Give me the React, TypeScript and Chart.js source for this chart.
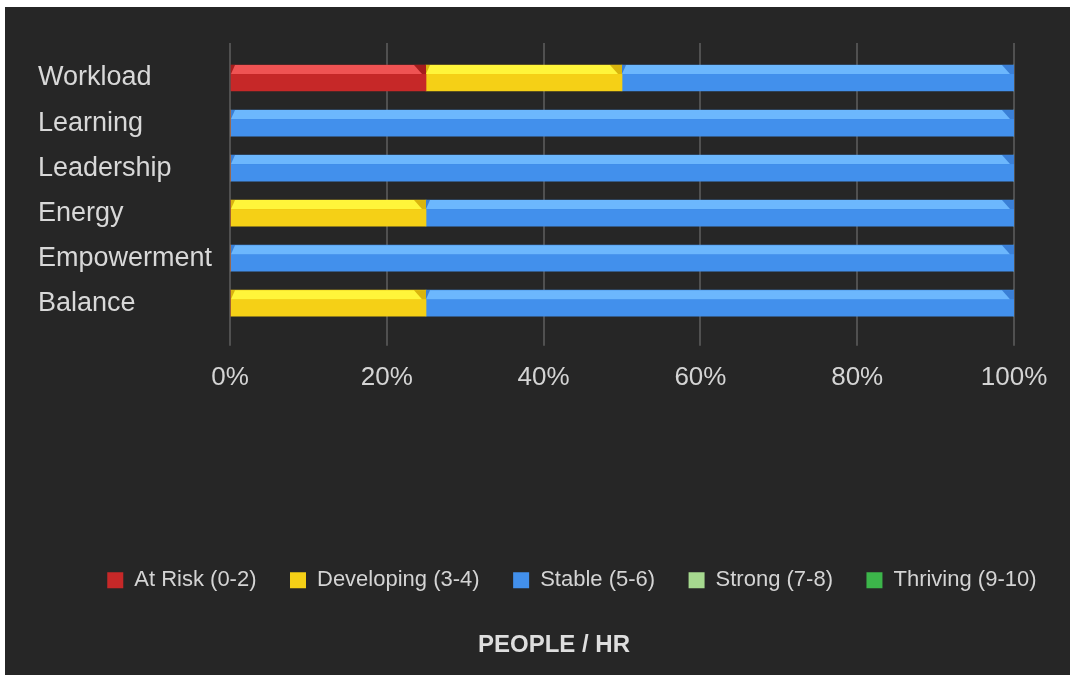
import React, { useEffect, useRef } from 'react';
import { Chart, registerables } from 'chart.js';

Chart.register(...registerables);

// ---- data ----
const categories = ['Workload', 'Learning', 'Leadership', 'Energy', 'Empowerment', 'Balance'];
const seriesNames = ['At Risk (0-2)', 'Developing (3-4)', 'Stable (5-6)', 'Strong (7-8)', 'Thriving (9-10)'];
const atRisk = [25, 0, 0, 0, 0, 0];
const developing = [25, 0, 0, 25, 0, 25];
const stable = [50, 100, 100, 75, 100, 75];
const strong = [0, 0, 0, 0, 0, 0];
const thriving = [0, 0, 0, 0, 0, 0];
const xTickValues = [0, 20, 40, 60, 80, 100];
const titleText = 'PEOPLE / HR';

// ---- styles ----
const fills = ['#c62828', '#f5d016', '#4290ec', '#a6d98f', '#3cb54a'];
const highlights = ['#ef5353', '#fff53a', '#6cb7fd', '#c5e8b5', '#62cc6e'];
const shades = ['#a51d1d', '#d9b50e', '#3a7fd6', '#8cc070', '#2e9a3c'];
const FONT = "'Liberation Sans', Arial, sans-serif";
const GRID = '#505050';

const bevelPlugin = {
  id: 'bevel',
  afterDatasetsDraw(chart: any) {
    const ctx = chart.ctx;
    chart.data.datasets.forEach((_ds: any, i: number) => {
      const meta = chart.getDatasetMeta(i);
      if (meta.hidden) return;
      meta.data.forEach((el: any) => {
        const p = el.getProps(['x', 'y', 'base', 'height'], true);
        const left = Math.min(p.x, p.base);
        const right = Math.max(p.x, p.base);
        if (right - left < 2) return;
        const top = p.y - p.height / 2;
        const h = 9;
        ctx.save();
        ctx.fillStyle = shades[i];
        ctx.fillRect(left, top, right - left, h);
        ctx.fillStyle = highlights[i];
        ctx.beginPath();
        ctx.moveTo(left, top + h);
        ctx.lineTo(Math.min(left + 4, right), top);
        ctx.lineTo(Math.max(right - 12, left + 4), top);
        ctx.lineTo(right - 4, top + h);
        ctx.closePath();
        ctx.fill();
        ctx.restore();
      });
    });
  },
};

export default function App() {
  const ref = useRef<HTMLCanvasElement | null>(null);

  useEffect(() => {
    if (!ref.current) return;
    Chart.defaults.font.family = FONT;
    const seriesData = [atRisk, developing, stable, strong, thriving];
    const setTicks = (s: any) => {
      s.ticks = xTickValues.map((v) => ({ value: v }));
    };
    const chart = new Chart(ref.current, {
      type: 'bar',
      data: {
        labels: categories,
        datasets: seriesNames.map((name, i) => ({
          label: name,
          data: seriesData[i],
          backgroundColor: fills[i],
          borderWidth: 0,
          barThickness: 26,
          xAxisID: 'x',
          yAxisID: 'y',
        })),
      },
      options: {
        indexAxis: 'y',
        animation: false,
        responsive: true,
        maintainAspectRatio: false,
        layout: { padding: { top: 36, left: 33, right: 0, bottom: 0 } },
        scales: {
          x: {
            type: 'linear',
            position: 'bottom',
            stacked: true,
            min: 0,
            max: 100,
            afterBuildTicks: setTicks,
            afterFit: (s: any) => {
              s.height = 210;
            },
            grid: { color: GRID, lineWidth: 2, drawTicks: true, tickLength: 20, tickColor: GRID },
            border: { display: false },
            ticks: {
              color: '#d4d4d4',
              font: { size: 26, family: FONT },
              padding: 17,
              callback: (v: any) => v + '%',
            },
          },
          xTop: {
            type: 'linear',
            position: 'top',
            min: 0,
            max: 100,
            afterBuildTicks: setTicks,
            afterFit: (s: any) => {
              s.height = 12.5;
            },
            grid: { color: GRID, lineWidth: 2, drawOnChartArea: false, drawTicks: true, tickLength: 12.5, tickColor: GRID },
            border: { display: false },
            ticks: { display: false },
          },
          y: {
            type: 'category',
            position: 'left',
            stacked: true,
            afterFit: (s: any) => {
              s.width = 192;
            },
            grid: { display: false, drawTicks: false, tickLength: 0 },
            border: { display: false },
            ticks: {
              crossAlign: 'far',
              color: '#d8d8d8',
              font: { size: 27, family: FONT },
              padding: 0,
            },
          },
          padR: {
            type: 'linear',
            position: 'right',
            afterFit: (s: any) => {
              s.width = 56;
            },
            grid: { display: false, drawTicks: false },
            border: { display: false },
            ticks: { display: false },
          },
        } as any,
        plugins: {
          legend: {
            position: 'bottom',
            align: 'end',
            labels: {
              boxWidth: 16,
              boxHeight: 16,
              padding: 33.5,
              color: '#d4d4d4',
              font: { size: 22, family: FONT },
            },
          },
          title: {
            display: true,
            position: 'bottom',
            text: titleText,
            color: '#dedede',
            font: { size: 24, weight: 'bold', family: FONT },
            padding: { top: 30, bottom: 15 },
          },
          tooltip: { enabled: false },
        },
      } as any,
      plugins: [bevelPlugin],
    });
    return () => chart.destroy();
  }, []);

  return (
    <div
      style={{
        position: 'absolute',
        left: 5,
        top: 7,
        width: 1065,
        height: 668,
        background: '#262626',
      }}
    >
      <canvas ref={ref} style={{ display: 'block' }} />
    </div>
  );
}
